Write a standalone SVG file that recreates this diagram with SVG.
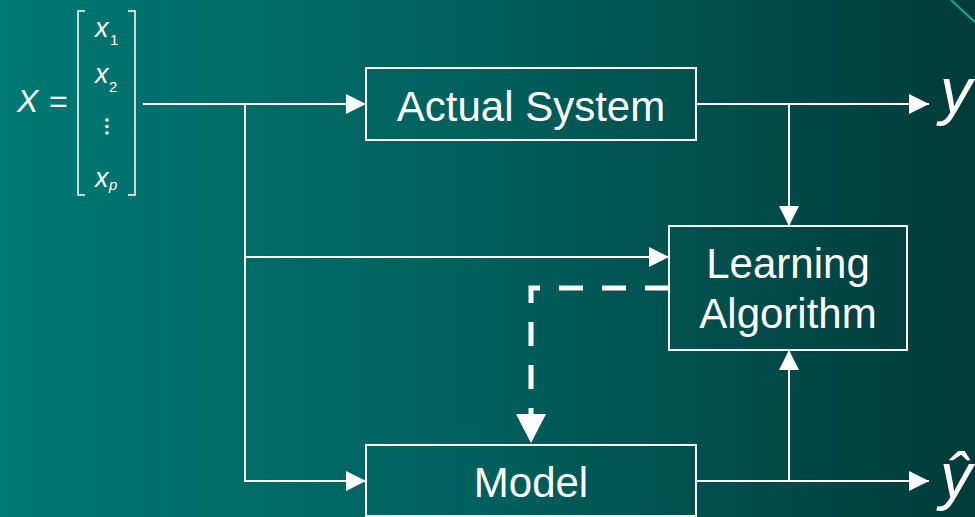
<svg xmlns="http://www.w3.org/2000/svg" width="975" height="517" viewBox="0 0 975 517">
  <defs>
    <linearGradient id="bg" x1="0" y1="0" x2="1" y2="0">
      <stop offset="0" stop-color="#007873"/>
      <stop offset="0.5" stop-color="#005f5c"/>
      <stop offset="1" stop-color="#003b39"/>
    </linearGradient>
    <marker id="ah" viewBox="0 0 20 20" refX="20" refY="10" markerWidth="20" markerHeight="20" markerUnits="userSpaceOnUse" orient="auto">
      <path d="M0,0 L20,10 L0,20 z" fill="#fff"/>
    </marker>
  </defs>
  <style>
    .box { fill: none; stroke: #fff; stroke-width: 2; }
    .lbl { font-family: "Liberation Sans", Arial, sans-serif; font-size: 42px; fill: #fff; text-anchor: middle; }
    .math { font-family: "Liberation Sans", Arial, sans-serif; fill: #fff; }
    .it { font-style: italic; }
    .conn { fill: none; stroke: #fff; stroke-width: 2; }
    .dash { fill: none; stroke: #fff; stroke-width: 5; stroke-dasharray: 24 19; }
  </style>
  <rect x="0" y="0" width="975" height="517" fill="url(#bg)"/>
  <line x1="951" y1="0" x2="976" y2="23" stroke="#1aa39c" stroke-width="2"/>

  <g id="input">
    <text class="math it" x="17" y="112" font-size="32">X</text>
    <text class="math" x="49" y="112" font-size="32">=</text>
    <path d="M85,11 H78 V195 H85" fill="none" stroke="#fff" stroke-width="1.5"/>
    <path d="M128,11 H135 V195 H128" fill="none" stroke="#fff" stroke-width="1.5"/>
    <text class="math it" x="95" y="37" font-size="27">x</text>
    <text class="math" x="110" y="45" font-size="15">1</text>
    <text class="math it" x="95" y="83" font-size="27">x</text>
    <text class="math" x="109" y="92" font-size="15">2</text>
    <circle cx="107" cy="120" r="1.8" fill="#fff"/>
    <circle cx="107" cy="126.5" r="1.8" fill="#fff"/>
    <circle cx="107" cy="133" r="1.8" fill="#fff"/>
    <text class="math it" x="95" y="187" font-size="27">x</text>
    <text class="math it" x="109" y="190" font-size="15">p</text>
  </g>

  <g id="actual-system">
    <rect class="box" x="366" y="68" width="330" height="72"/>
    <text class="lbl" x="531" y="121">Actual System</text>
  </g>

  <g id="learning-algorithm">
    <rect class="box" x="669" y="226" width="238" height="124"/>
    <text class="lbl" x="788" y="278">Learning</text>
    <text class="lbl" x="788" y="328">Algorithm</text>
  </g>

  <g id="model">
    <rect class="box" x="366" y="445" width="330" height="71"/>
    <text class="lbl" x="531" y="497">Model</text>
  </g>

  <g id="output-y">
    <text class="math it" x="940" y="113" font-size="64">y</text>
  </g>
  <g id="output-yhat">
    <text class="math it" x="940" y="498" font-size="64">ŷ</text>
  </g>

  <g id="connectors">
    <path class="conn" d="M143,104 H366" marker-end="url(#ah)"/>
    <path class="conn" d="M245,104 V481 H366" marker-end="url(#ah)"/>
    <path class="conn" d="M245,257 H669" marker-end="url(#ah)"/>
    <path class="conn" d="M696,104 H929" marker-end="url(#ah)"/>
    <path class="conn" d="M789,104 V226" marker-end="url(#ah)"/>
    <path class="conn" d="M696,481 H929" marker-end="url(#ah)"/>
    <path class="conn" d="M789,481 V350" marker-end="url(#ah)"/>
    <path class="dash" d="M669,288 H531 V414"/>
    <path d="M516,414 L546,414 L531,443 z" fill="#fff"/>
  </g>
</svg>
